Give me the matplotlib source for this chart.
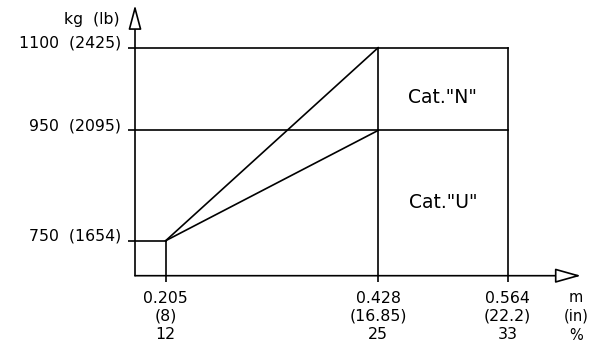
import matplotlib
matplotlib.use("Agg")
import matplotlib.pyplot as plt

# ---- data ----
weights_kg = [750, 950, 1100]
weights_lb = ["1654", "2095", "2425"]
arms_m = [0.205, 0.428, 0.564]
arms_in = ["8", "16.85", "22.2"]
arms_pct = ["12", "25", "33"]
categories = ['Cat."N"', 'Cat."U"']

plt.rcParams['font.family'] = ['DejaVu Sans']

W, H = 589, 348
fig = plt.figure(figsize=(W / 100, H / 100), dpi=100)

# pixel layout
x_axis_px, y_axis_py = 135, 275.7
right_px, top_py = 581, 5
xscale = (507.7 - 165.7) / (arms_m[2] - arms_m[0])     # px per m
yscale = (240.7 - 47.7) / (weights_kg[2] - weights_kg[0])  # px per kg

x0 = arms_m[0] - (165.7 - x_axis_px) / xscale
x1 = arms_m[0] + (right_px - 165.7) / xscale
y0 = weights_kg[0] - (y_axis_py - 240.7) / yscale
y1 = weights_kg[2] + (47.7 - top_py) / yscale

ax = fig.add_axes([x_axis_px / W, (H - y_axis_py) / H,
                   (right_px - x_axis_px) / W, (y_axis_py - top_py) / H])
ax.set_xlim(x0, x1)
ax.set_ylim(y0, y1)
for s in ax.spines.values():
    s.set_visible(False)

lw = 1.2
k = "black"
# axes with hollow arrowheads
ax.annotate("", xy=(1, 0), xytext=(0, 0), xycoords="axes fraction",
            arrowprops=dict(arrowstyle="-|>,head_length=1.6,head_width=0.45",
                            fc="white", ec=k, lw=lw, shrinkA=0, shrinkB=0))
ax.annotate("", xy=(0, 1), xytext=(0, 0), xycoords="axes fraction",
            arrowprops=dict(arrowstyle="-|>,head_length=1.5,head_width=0.4",
                            fc="white", ec=k, lw=lw, shrinkA=0, shrinkB=0))

# envelope grid
ax.plot([x0, arms_m[2]], [weights_kg[2]] * 2, color=k, lw=lw)
ax.plot([x0, arms_m[2]], [weights_kg[1]] * 2, color=k, lw=lw)
ax.plot([x0, arms_m[0]], [weights_kg[0]] * 2, color=k, lw=lw)
ax.plot([arms_m[0]] * 2, [y0, weights_kg[0]], color=k, lw=lw)
ax.plot([arms_m[1]] * 2, [y0, weights_kg[2]], color=k, lw=lw)
ax.plot([arms_m[2]] * 2, [y0, weights_kg[2]], color=k, lw=lw)
# forward limits
ax.plot([arms_m[0], arms_m[1]], [weights_kg[0], weights_kg[2]], color=k, lw=lw)
ax.plot([arms_m[0], arms_m[1]], [weights_kg[0], weights_kg[1]], color=k, lw=lw)

# ticks
fs = 11.3
ax.set_yticks(weights_kg, [f"{a}  ({b})" for a, b in zip(weights_kg, weights_lb)])
ax.set_xticks(arms_m, [f"{a}\n({b})\n{c}" for a, b, c in zip(arms_m, arms_in, arms_pct)])
ax.tick_params(axis="y", direction="out", length=5.2, width=lw, pad=5, labelsize=fs)
ax.tick_params(axis="x", direction="out", length=4, width=lw, pad=7, labelsize=fs)
for t in ax.get_yticklabels():
    t.set_verticalalignment("baseline")
for t in ax.get_xticklabels():
    t.set_linespacing(1.25)

# unit labels
xu = arms_m[0] + (576 - 165.7) / xscale
ax.annotate("m\n(in)\n%", xy=(xu, 0), xycoords=("data", "axes fraction"),
            xytext=(0, -10), textcoords="offset points", ha="center", va="top",
            fontsize=10.5, linespacing=1.35, annotation_clip=False)
ax.annotate("kg  (lb)", xy=(0, 1), xycoords="axes fraction",
            xytext=(-11, -10.5), textcoords="offset points", ha="right", va="center",
            fontsize=fs)

# category labels
xc = (arms_m[1] + arms_m[2]) / 2
ax.text(xc, weights_kg[2] - (103 - 47.7) / yscale, categories[0],
        ha="center", va="baseline", fontsize=13.5)
ax.text(xc, weights_kg[2] - (208 - 47.7) / yscale, categories[1],
        ha="center", va="baseline", fontsize=13.5)

fig.savefig("out.png", dpi=100)
